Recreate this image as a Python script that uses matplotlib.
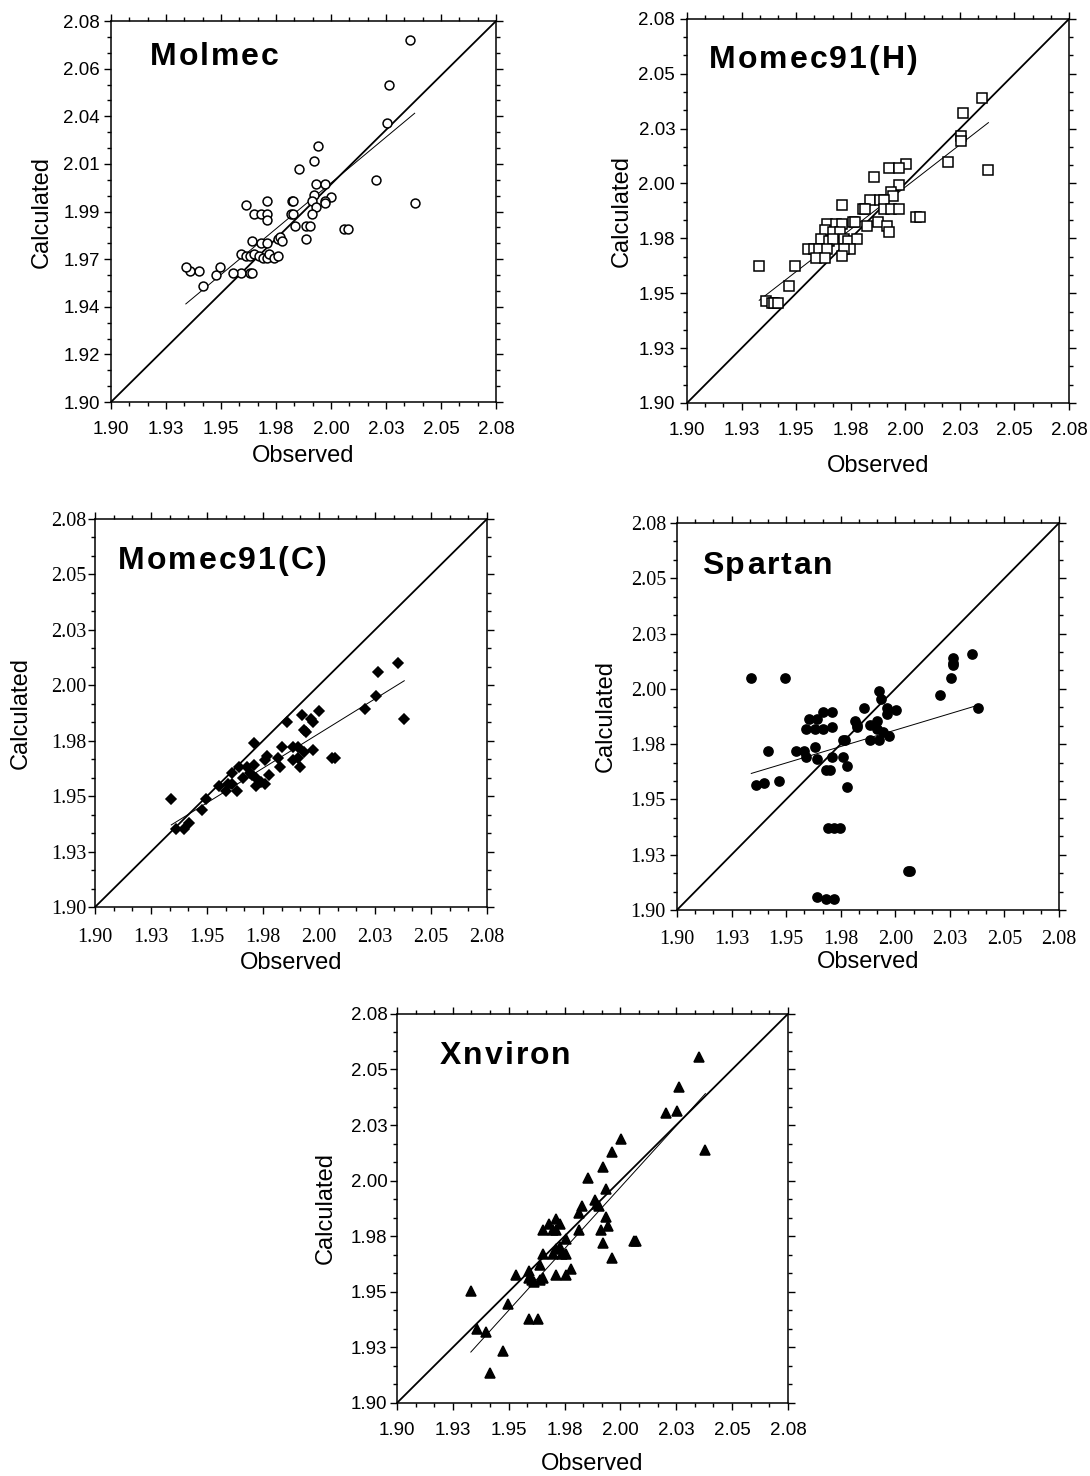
import numpy as np
import matplotlib.pyplot as plt
import matplotlib.transforms as mtransforms
from matplotlib.ticker import AutoMinorLocator

# Axis range shared by every panel
axis_range = [1.90, 2.08]
ticks8 = ['1.90', '1.93', '1.95', '1.98', '2.00', '2.03', '2.05', '2.08']
ticks9 = ['1.90', '1.92', '1.94', '1.97', '1.99', '2.01', '2.04', '2.06', '2.08']

# Molmec (open circles)
molmec_obs = [2.040, 2.030, 2.029, 1.997, 1.995, 1.988, 2.024, 2.042, 1.996, 2.000,
              1.995, 2.003, 1.994, 2.000, 2.000, 1.996, 1.994, 1.9846, 1.9852, 1.984,
              1.985, 1.986, 1.991, 1.993, 1.991, 2.009, 2.011, 1.963, 1.967, 1.970,
              1.973, 1.973, 1.973, 1.966, 1.970, 1.973, 1.978, 1.979, 1.980, 1.961,
              1.963, 1.965, 1.967, 1.969, 1.971, 1.973, 1.974, 1.976, 1.978, 1.961,
              1.965, 1.966, 1.957, 1.949, 1.951, 1.943, 1.941, 1.937, 1.935]
molmec_calc = [2.071, 2.050, 2.032, 2.021, 2.014, 2.010, 2.005, 1.994, 2.003, 2.003,
               1.998, 1.997, 1.995, 1.995, 1.994, 1.992, 1.989, 1.995, 1.995, 1.989,
               1.989, 1.983, 1.983, 1.983, 1.977, 1.982, 1.982, 1.993, 1.989, 1.989,
               1.995, 1.989, 1.986, 1.976, 1.975, 1.975, 1.977, 1.978, 1.976, 1.970,
               1.969, 1.969, 1.970, 1.969, 1.968, 1.968, 1.970, 1.968, 1.969, 1.961,
               1.961, 1.961, 1.961, 1.960, 1.964, 1.955, 1.962, 1.962, 1.964]
molmec_fit = (0.842, 0.3171)

# Momec91(H) (open squares)
momech_obs = [2.039, 2.030, 2.029, 2.029, 2.023, 2.042, 2.003, 1.995, 2.000, 1.988,
              2.000, 1.996, 1.997, 1.986, 1.991, 1.993, 1.993, 1.996, 2.000, 1.983,
              1.984, 1.973, 1.990, 1.978, 1.979, 1.985, 1.994, 1.995, 2.008, 2.010,
              1.966, 1.970, 1.973, 1.965, 1.963, 1.969, 1.972, 1.967, 1.969, 1.974,
              1.976, 1.980, 1.977, 1.974, 1.957, 1.960, 1.962, 1.966, 1.961, 1.965,
              1.973, 1.951, 1.934, 1.948, 1.937, 1.940, 1.941, 1.943]
momech_calc = [2.043, 2.036, 2.025, 2.023, 2.013, 2.009, 2.012, 2.010, 2.010, 2.006,
               2.002, 1.999, 1.997, 1.995, 1.995, 1.995, 1.991, 1.991, 1.991, 1.991,
               1.991, 1.993, 1.985, 1.985, 1.985, 1.983, 1.983, 1.980, 1.987, 1.987,
               1.984, 1.984, 1.984, 1.981, 1.977, 1.980, 1.980, 1.976, 1.977, 1.977,
               1.976, 1.977, 1.972, 1.972, 1.972, 1.972, 1.972, 1.972, 1.968, 1.968,
               1.969, 1.964, 1.964, 1.955, 1.948, 1.947, 1.947, 1.947]
momech_fit = (0.771, 0.4570)

# Momec91(C) (filled diamonds)
momecc_obs = [2.039, 2.030, 2.029, 2.024, 2.042, 2.003, 1.999, 2.000, 1.995, 1.988,
              1.996, 1.997, 2.000, 1.973, 1.986, 1.991, 1.993, 1.991, 1.993, 1.996,
              1.994, 1.979, 1.978, 1.984, 1.985, 1.980, 2.009, 2.010, 1.966, 1.970,
              1.973, 1.963, 1.968, 1.971, 1.972, 1.974, 1.976, 1.978, 1.974, 1.961,
              1.963, 1.965, 1.960, 1.957, 1.951, 1.949, 1.935, 1.943, 1.937, 1.941]
momecc_calc = [2.013, 2.009, 1.998, 1.992, 1.987, 1.991, 1.987, 1.986, 1.989, 1.986,
               1.982, 1.981, 1.973, 1.976, 1.974, 1.974, 1.974, 1.968, 1.969, 1.972,
               1.965, 1.970, 1.968, 1.969, 1.965, 1.961, 1.969, 1.969, 1.965, 1.965,
               1.966, 1.962, 1.960, 1.962, 1.961, 1.960, 1.958, 1.957, 1.956, 1.957,
               1.957, 1.954, 1.954, 1.956, 1.950, 1.945, 1.950, 1.939, 1.936, 1.936]
momecc_fit = (0.625, 0.7287)

# Spartan (filled circles)
spartan_obs = [1.935, 1.951, 2.039, 2.030, 2.030, 2.030, 2.029, 2.024, 2.042, 1.995,
               1.996, 1.988, 1.999, 2.003, 1.999, 1.984, 1.985, 1.985, 1.991, 1.994,
               1.994, 1.997, 1.991, 1.995, 2.000, 1.978, 1.979, 1.962, 1.966, 1.961,
               1.965, 1.969, 1.973, 1.969, 1.973, 1.956, 1.960, 1.965, 1.961, 1.966,
               1.970, 1.972, 1.973, 1.978, 1.980, 1.980, 1.943, 1.937, 1.941, 1.948,
               1.971, 1.974, 1.977, 2.009, 2.010, 1.966, 1.970, 1.974]
spartan_calc = [2.008, 2.008, 2.019, 2.017, 2.015, 2.014, 2.008, 2.000, 1.994, 2.002,
                1.998, 1.994, 1.994, 1.993, 1.991, 1.988, 1.985, 1.986, 1.986, 1.988,
                1.984, 1.983, 1.979, 1.979, 1.981, 1.979, 1.979, 1.989, 1.989, 1.984,
                1.984, 1.984, 1.985, 1.992, 1.992, 1.974, 1.974, 1.976, 1.971, 1.970,
                1.965, 1.965, 1.971, 1.971, 1.967, 1.957, 1.974, 1.958, 1.959, 1.960,
                1.938, 1.938, 1.938, 1.918, 1.918, 1.906, 1.905, 1.905]
spartan_fit = (0.297, 1.3888)

# Xnviron (filled triangles)
xnviron_obs = [2.039, 2.030, 2.029, 2.024, 2.042, 2.003, 1.999, 1.995, 1.988, 1.996,
               1.991, 1.992, 1.993, 1.985, 1.984, 1.996, 1.997, 1.994, 1.984, 1.995,
               1.999, 2.009, 2.010, 1.978, 1.967, 1.970, 1.972, 1.973, 1.973, 1.975,
               1.973, 1.975, 1.976, 1.978, 1.967, 1.972, 1.966, 1.980, 1.973, 1.978,
               1.955, 1.961, 1.962, 1.966, 1.967, 1.961, 1.963, 1.934, 1.951, 1.961,
               1.965, 1.937, 1.941, 1.949, 1.943]
xnviron_calc = [2.060, 2.046, 2.035, 2.034, 2.017, 2.022, 2.016, 2.009, 2.004, 1.999,
                1.994, 1.992, 1.991, 1.991, 1.988, 1.986, 1.982, 1.980, 1.980, 1.974,
                1.967, 1.975, 1.975, 1.976, 1.980, 1.983, 1.980, 1.985, 1.980, 1.983,
                1.971, 1.972, 1.969, 1.969, 1.969, 1.969, 1.964, 1.962, 1.959, 1.959,
                1.959, 1.958, 1.957, 1.957, 1.958, 1.961, 1.956, 1.952, 1.946, 1.939,
                1.939, 1.934, 1.933, 1.924, 1.914]
xnviron_fit = (1.107, -0.2174)


# Write a bold panel title with a little extra letter spacing
def spaced_title(ax, x, y, s, spacing=2.0, **kw):
    renderer = fig.canvas.get_renderer()
    offset = 0.0
    for ch in s:
        tr = mtransforms.offset_copy(ax.transAxes, fig=fig, x=offset, y=0, units='dots')
        t = ax.text(x, y, ch, transform=tr, **kw)
        offset += t.get_window_extent(renderer).width + spacing


# Draw one observed-vs-calculated panel
def draw_panel(rect, name, title_xy, obs, calc, fit, marker, ms, filled,
               yticklabels, tick_font, tick_size, pads, label_xy):
    ax = fig.add_axes(rect)
    ax.set_xlim(axis_range)
    ax.set_ylim(axis_range)

    # y = x reference and regression line
    ax.plot(axis_range, axis_range, color='black', lw=1.3)
    fx = np.array([min(obs), max(obs)])
    ax.plot(fx, fit[0] * fx + fit[1], color='black', lw=0.7)

    ax.plot(obs, calc, linestyle='none', marker=marker, ms=ms,
            mfc='black' if filled else 'white', mec='black', mew=1.1)

    ax.set_xticks(np.linspace(axis_range[0], axis_range[1], len(ticks8)))
    ax.set_xticklabels(ticks8)
    ax.set_yticks(np.linspace(axis_range[0], axis_range[1], len(yticklabels)))
    ax.set_yticklabels(yticklabels)
    ax.xaxis.set_minor_locator(AutoMinorLocator(3))
    ax.yaxis.set_minor_locator(AutoMinorLocator(3))
    ax.tick_params(which='both', direction='out', top=True, right=True, width=1.0,
                   labelsize=tick_size, labelfontfamily=tick_font)
    ax.tick_params(which='major', length=5)
    ax.tick_params(which='minor', length=3)
    ax.tick_params(axis='x', pad=pads[0])
    ax.tick_params(axis='y', pad=pads[1])
    for sp in ax.spines.values():
        sp.set_linewidth(1.1)

    ax.set_xlabel('Observed', fontsize=17, family='Liberation Sans', va='center')
    ax.set_ylabel('Calculated', fontsize=17, family='Liberation Sans', va='center')
    ax.xaxis.set_label_coords(0.5, label_xy[1])
    ax.yaxis.set_label_coords(label_xy[0], 0.5)

    spaced_title(ax, title_xy[0], title_xy[1], name, fontsize=23, fontweight='bold',
                 family='Liberation Sans', ha='left', va='baseline')
    return ax


fig = plt.figure(figsize=(10.9, 14.76), dpi=100)

draw_panel([0.1018, 0.7276, 0.3532, 0.2581], 'Molmec', (0.101, 0.885),
           molmec_obs, molmec_calc, molmec_fit, 'o', 6.4, False,
           ticks9, 'Liberation Sans', 13.5, (8.5, 3), (-0.179, -0.142))
draw_panel([0.6303, 0.7270, 0.3505, 0.2602], 'Momec91(H)', (0.058, 0.872),
           momech_obs, momech_calc, momech_fit, 's', 6.5, False,
           ticks8, 'Liberation Sans', 13.5, (8.5, 3.5), (-0.170, -0.164))
draw_panel([0.0872, 0.3855, 0.3596, 0.2629], 'Momec91(C)', (0.059, 0.871),
           momecc_obs, momecc_calc, momecc_fit, 'D', 5.0, True,
           ticks8, 'Liberation Serif', 14.5, (10, 1), (-0.189, -0.144))
draw_panel([0.6211, 0.3835, 0.3505, 0.2622], 'Spartan', (0.065, 0.868),
           spartan_obs, spartan_calc, spartan_fit, 'o', 6.6, True,
           ticks8, 'Liberation Serif', 14.5, (9.5, 3), (-0.186, -0.134))
draw_panel([0.3642, 0.0495, 0.3587, 0.2636], 'Xnviron', (0.110, 0.871),
           xnviron_obs, xnviron_calc, xnviron_fit, '^', 6.5, True,
           ticks8, 'Liberation Sans', 13.5, (9, 2), (-0.182, -0.157))

fig.savefig('out.png', dpi=100)
